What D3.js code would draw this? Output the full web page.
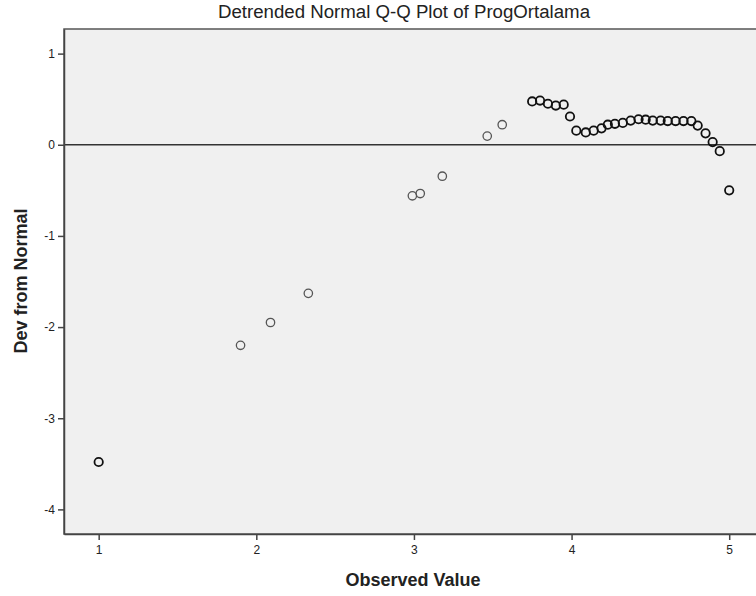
<!DOCTYPE html>
<html>
<head>
	<meta charset="utf-8">
	<title>Detrended Normal Q-Q Plot</title>
	<script src="https://d3js.org/d3.v7.min.js"></script>
	<style>
		body { margin: 0; background: #fff; }
		text { font-family: "Liberation Sans", Arial, sans-serif; fill: #222; }
	</style>
</head>
<body>
	<svg width="756" height="596"></svg>
	<script type="text/javascript">
		var observed = [1.00, 1.90, 2.09, 2.33, 2.99, 3.04, 3.18, 3.465, 3.56,
			3.75, 3.80, 3.85, 3.90, 3.95, 3.99, 4.03, 4.09, 4.14, 4.19, 4.23,
			4.275, 4.325, 4.375, 4.425, 4.47, 4.515, 4.565, 4.61, 4.66, 4.71,
			4.76, 4.80, 4.85, 4.895, 4.94, 5.00];
		var devFromNormal = [-3.48, -2.20, -1.95, -1.63, -0.56, -0.535, -0.345, 0.095, 0.22,
			0.475, 0.485, 0.45, 0.43, 0.44, 0.31, 0.155, 0.135, 0.155, 0.18, 0.22,
			0.23, 0.24, 0.265, 0.28, 0.275, 0.265, 0.265, 0.26, 0.26, 0.26,
			0.26, 0.21, 0.125, 0.03, -0.07, -0.50];
		// points drawn darker in the original (tied cases)
		var caseCount = [2, 1, 1, 1, 1, 1, 1, 1, 1,
			2, 2, 2, 2, 2, 2, 2, 2, 2, 2, 2,
			2, 2, 2, 2, 2, 2, 2, 2, 2, 2,
			2, 2, 2, 2, 2, 2];
		var xTicks = [1, 2, 3, 4, 5];
		var yTicks = [-4, -3, -2, -1, 0, 1];

		var points = observed.map((v, i) => ({ x: v, y: devFromNormal[i], n: caseCount[i] }));

		var plotL = 64, plotT = 29, plotR = 756, plotB = 534;

		var x = d3.scaleLinear().domain([0.78, 5.17]).range([plotL, plotR]);
		var y = d3.scaleLinear().domain([-4.27, 1.27]).range([plotB, plotT]);

		var svg = d3.select('svg');

		svg.append('rect')
			.attr('x', plotL).attr('y', plotT)
			.attr('width', plotR - plotL + 10).attr('height', plotB - plotT)
			.attr('fill', '#f0f0f0')
			.attr('stroke', '#555')
			.attr('stroke-width', 1.5);

		// zero reference line
		svg.append('line')
			.attr('x1', plotL).attr('x2', plotR)
			.attr('y1', y(0)).attr('y2', y(0))
			.attr('stroke', '#333')
			.attr('stroke-width', 1.5);

		var yAxis = svg.append('g')
			.attr('transform', 'translate(' + plotL + ',0)')
			.call(d3.axisLeft(y).tickValues(yTicks).tickSize(6).tickSizeOuter(0).tickPadding(3).tickFormat(d => String(d)));
		var xAxis = svg.append('g')
			.attr('transform', 'translate(0,' + plotB + ')')
			.call(d3.axisBottom(x).tickValues(xTicks).tickSize(6).tickSizeOuter(0).tickPadding(5).tickFormat(d => String(d)));

		[xAxis, yAxis].forEach(a => {
			a.select('.domain').attr('stroke', '#444').attr('stroke-width', 1.5);
			a.selectAll('.tick line').attr('stroke', '#444').attr('stroke-width', 1.5);
			a.selectAll('.tick text').attr('font-size', 12).attr('fill', '#222')
				.attr('font-family', '"Liberation Sans", Arial, sans-serif');
		});

		svg.selectAll('circle.pt')
			.data(points)
			.enter().append('circle')
			.attr('class', 'pt')
			.attr('cx', d => x(d.x))
			.attr('cy', d => y(d.y))
			.attr('r', 4.2)
			.attr('fill', 'none')
			.attr('stroke', d => d.n > 1 ? '#111' : '#555')
			.attr('stroke-width', d => d.n > 1 ? 1.8 : 1.3);

		svg.append('text')
			.attr('x', 404).attr('y', 18)
			.attr('text-anchor', 'middle')
			.attr('font-size', 18)
			.attr('textLength', 372)
			.attr('lengthAdjust', 'spacingAndGlyphs')
			.text('Detrended Normal Q-Q Plot of ProgOrtalama');

		svg.append('text')
			.attr('x', 413).attr('y', 586)
			.attr('text-anchor', 'middle')
			.attr('font-size', 18)
			.attr('font-weight', 'bold')
			.text('Observed Value');

		svg.append('text')
			.attr('transform', 'translate(27,281) rotate(-90)')
			.attr('text-anchor', 'middle')
			.attr('font-size', 18)
			.attr('font-weight', 'bold')
			.text('Dev from Normal');
	</script>
</body>
</html>
